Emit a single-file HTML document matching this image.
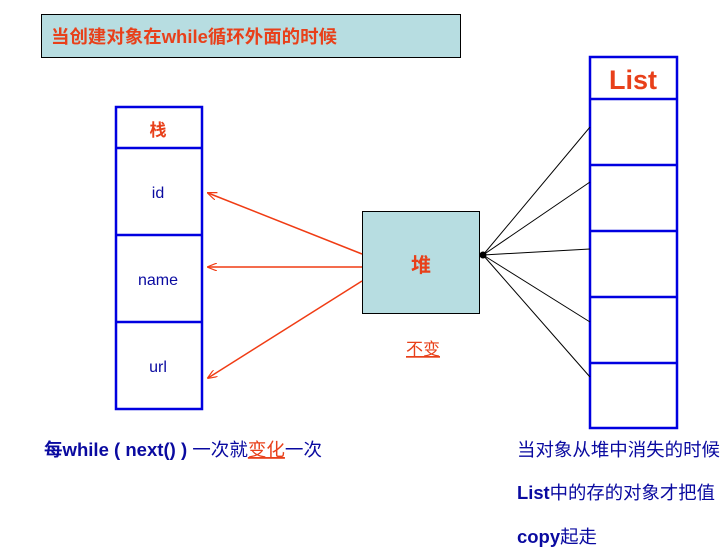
<!DOCTYPE html>
<html><head><meta charset="utf-8"><style>
body{margin:0;background:#fff;width:726px;height:551px;overflow:hidden;}
svg text{font-family:"Liberation Sans","Noto Sans CJK SC",sans-serif;}
</style></head><body>
<svg width="726" height="551" xmlns="http://www.w3.org/2000/svg">
<defs><marker id="a" markerWidth="10" markerHeight="8" refX="9" refY="4" orient="auto" markerUnits="userSpaceOnUse"><path d="M0,0 L10,4 L0,8" fill="none" stroke="#f03c14" stroke-width="1.2"/></marker></defs>
<rect x="41.5" y="14.5" width="419" height="43" fill="#b7dde1" stroke="#000"/>
<text x="51" y="43" font-size="18" font-weight="bold" fill="#e8401a" textLength="286" lengthAdjust="spacingAndGlyphs">当创建对象在while循环外面的时候</text>
<g fill="none" stroke="#0000e0" stroke-width="2.5">
<rect x="116" y="107" width="86" height="302"/>
<line x1="116" y1="148" x2="202" y2="148"/><line x1="116" y1="235" x2="202" y2="235"/><line x1="116" y1="322" x2="202" y2="322"/>
<rect x="590" y="57" width="87" height="371"/>
<line x1="590" y1="99" x2="677" y2="99"/><line x1="590" y1="165" x2="677" y2="165"/><line x1="590" y1="231" x2="677" y2="231"/><line x1="590" y1="297" x2="677" y2="297"/><line x1="590" y1="363" x2="677" y2="363"/>
</g>
<text x="158" y="136" font-size="17" font-weight="bold" fill="#e8401a" text-anchor="middle">栈</text>
<text x="158" y="198" font-size="16" fill="#0a0aa0" text-anchor="middle">id</text>
<text x="158" y="285" font-size="16" fill="#0a0aa0" text-anchor="middle">name</text>
<text x="158" y="372" font-size="16" fill="#0a0aa0" text-anchor="middle">url</text>
<text x="633" y="89" font-size="27" font-weight="bold" fill="#e8401a" text-anchor="middle">List</text>
<rect x="362.5" y="211.5" width="117" height="102" fill="#b7dde1" stroke="#000"/>
<text x="421" y="272" font-size="20" font-weight="bold" fill="#e8401a" text-anchor="middle">堆</text>
<text x="423" y="355" font-size="17" fill="#e8401a" text-anchor="middle" text-decoration="underline">不变</text>
<g stroke="#f03c14" stroke-width="1.5" marker-end="url(#a)">
<line x1="362" y1="254" x2="208" y2="193"/>
<line x1="362" y1="267" x2="208" y2="267"/>
<line x1="362" y1="281" x2="208" y2="378"/>
</g>
<g stroke="#000" stroke-width="1">
<line x1="483" y1="255" x2="590" y2="127"/><line x1="483" y1="255" x2="590" y2="182"/><line x1="483" y1="255" x2="590" y2="249"/><line x1="483" y1="255" x2="590" y2="322"/><line x1="483" y1="255" x2="590" y2="377"/>
</g>
<circle cx="483" cy="255" r="3.5" fill="#000"/>
<text x="44" y="456" font-size="18" font-weight="bold" fill="#0a0aa0" textLength="278" lengthAdjust="spacingAndGlyphs">每while ( next() ) <tspan font-weight="normal">一次就</tspan><tspan font-weight="normal" fill="#e8401a" text-decoration="underline">变化</tspan><tspan font-weight="normal">一次</tspan></text>
<text x="517" y="456" font-size="18" fill="#0a0aa0" textLength="203" lengthAdjust="spacingAndGlyphs">当对象从堆中消失的时候</text>
<text x="517" y="499" font-size="18" fill="#0a0aa0" textLength="198" lengthAdjust="spacingAndGlyphs"><tspan font-weight="bold">List</tspan>中的存的对象才把值</text>
<text x="517" y="543" font-size="18" fill="#0a0aa0" textLength="80" lengthAdjust="spacingAndGlyphs"><tspan font-weight="bold">copy</tspan>起走</text>
</svg>
</body></html>
